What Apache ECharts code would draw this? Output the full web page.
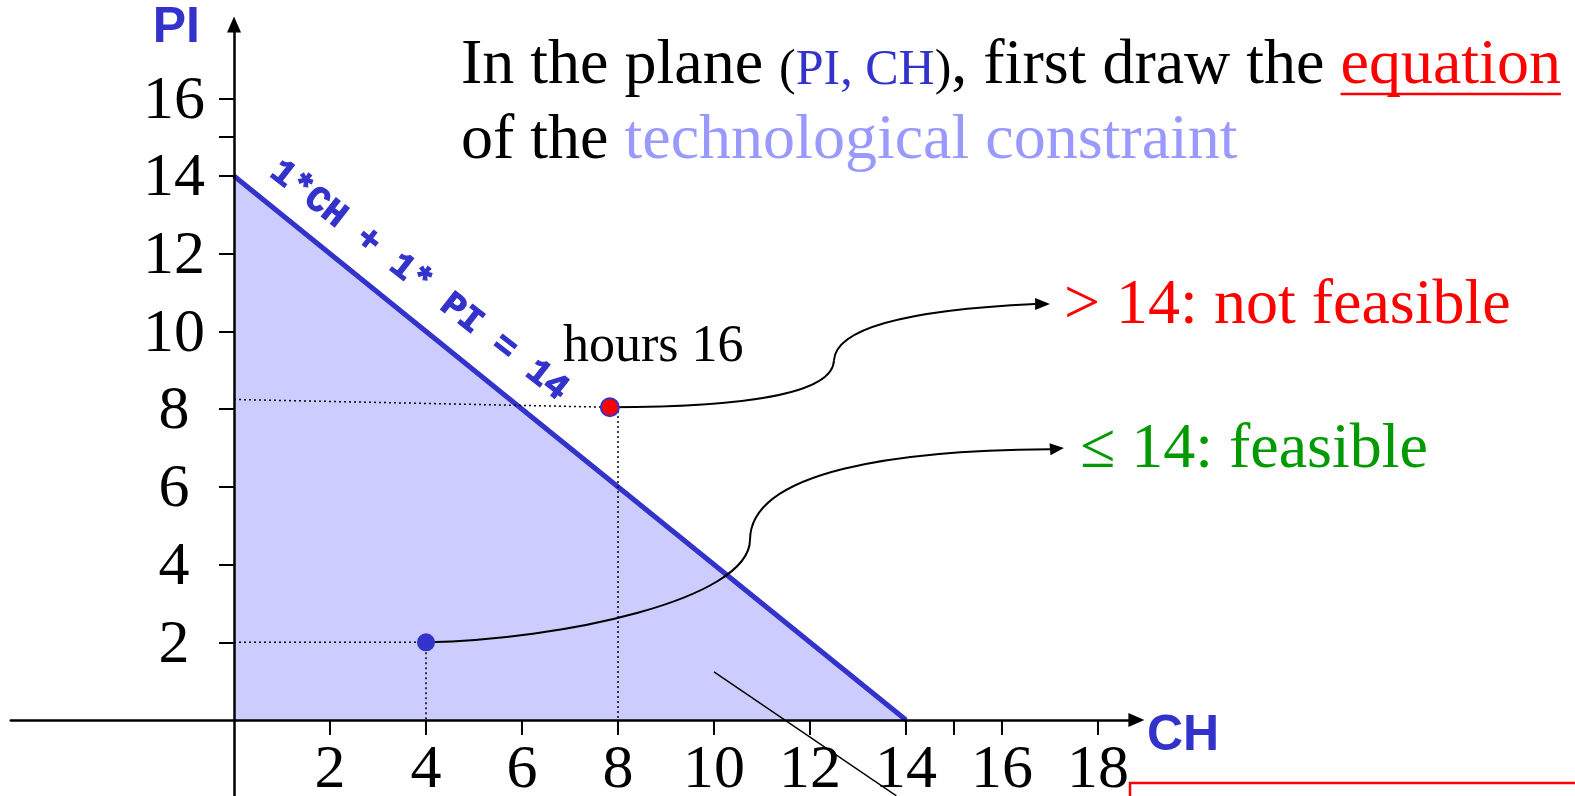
<!DOCTYPE html>
<html>
<head>
<meta charset="utf-8">
<title>Technological constraint</title>
<script src="https://cdn.jsdelivr.net/npm/echarts@6/dist/echarts.min.js"></script>
<style>
  html, body { margin: 0; padding: 0; background: #fff; }
  #chart { width: 1575px; height: 796px; }
</style>
</head>
<body>
<div id="chart"></div>
<script>
// constraint 1*CH + 1*PI = 14, between its two intercepts
const constraintLine = [[0, 14], [14, 0]];
const infeasiblePoint = [7.83, 8.05]; // hours 16
const feasiblePoint = [4, 2];         // hours 6

// dotted guides from the points to the axes
const guides = [
  [[0, 8.25], [7.83, 8.05]],
  [[8, 7.95], [8, 0]],
  [[0, 2], [4, 2]],
  [[4, 2], [4, 0]]
];

const xTicks = [2, 4, 6, 8, 10, 12, 14, 15, 16, 18];
const xTickLabels = [2, 4, 6, 8, 10, 12, 14, 16, 18];
const yTicks = [2, 4, 6, 8, 10, 12, 14, 15, 16];
const yTickLabels = [2, 4, 6, 8, 10, 12, 14, 16];

// curved arrows: start, ctrl, ctrl, mid, ctrl, ctrl, end, tip
const infeasibleArrow = [[7.83, 8.05], [10.54, 8.06], [12.48, 8.36], [12.5, 9.26],
  [12.54, 10.04], [13.88, 10.55], [16.69, 10.71], [17.0, 10.71]];
const feasibleArrow = [[4, 2], [6.79, 2.06], [10.73, 3.09], [10.75, 4.63],
  [10.75, 6.43], [13.88, 6.95], [17.0, 6.97], [17.29, 7.0]];
const arrows = [infeasibleArrow, feasibleArrow];

const pointerLine = [[10, 1.24], [13.8, -1.95]];
const constraintLabelAt = [3.85, 11.3];

const BLUE = '#3333cc';
const SERIF = '"Liberation Serif", "Times New Roman", serif';
const SANS = '"Liberation Sans", Arial, sans-serif';

const chart = echarts.init(document.getElementById('chart'));

// text helpers (baseline positioning)
const ctx = document.createElement('canvas').getContext('2d');
function textWidth(str, size) {
  ctx.font = size + 'px ' + SERIF;
  return ctx.measureText(str).width;
}
function serifText(str, x, baseline, size, color) {
  return {
    type: 'text', x: x, y: baseline - 0.3375 * size, silent: true,
    style: { text: str, fill: color, font: size + 'px ' + SERIF, align: 'left', verticalAlign: 'middle' }
  };
}

const graphics = [];
// title line 1
let tx = 461;
const line1 = [
  ['In the plane ', 64, '#000'],
  ['(', 50, '#000'],
  ['PI, CH', 50, BLUE],
  [')', 50, '#000'],
  [', first draw the ', 64, '#000'],
  ['equation', 64, '#ff0000']
];
line1.forEach(function (s, i) {
  graphics.push(serifText(s[0], tx, 88, s[1], s[2]));
  const w = textWidth(s[0], s[1]);
  if (i === line1.length - 1) {
    graphics.push({ type: 'line', silent: true, shape: { x1: tx, y1: 94, x2: tx + w, y2: 94 },
      style: { stroke: '#ff0000', lineWidth: 2.5 } });
  }
  tx += w;
});
graphics.push(serifText('of the ', 461, 163, 64, '#000'));
graphics.push(serifText('technological constraint', 461 + textWidth('of the ', 64), 163, 64, '#9999ff'));
graphics.push(serifText('> 14: not feasible', 1064, 328, 64, '#ff0000'));
graphics.push(serifText('\u2264 14: feasible', 1080, 472, 64, '#009900'));
graphics.push(serifText('hours 16', 563, 365, 52, '#000'));
graphics.push(serifText('hours  6', 312, 588, 52, '#000'));
// x axis name, sitting just below the arrow
graphics.push({ type: 'text', x: 1147, y: 754 - 0.3465 * 50, silent: true,
  style: { text: 'CH', fill: BLUE, font: 'bold 50px ' + SANS, align: 'left', verticalAlign: 'middle' } });
graphics.push({ type: 'rect', silent: true, shape: { x: 1130, y: 783, width: 470, height: 40 },
  style: { fill: null, stroke: '#ff0000', lineWidth: 2.5 } });

const series = [
  {
    type: 'line', data: constraintLine, symbol: 'none', z: 2,
    lineStyle: { color: BLUE, width: 5 },
    areaStyle: { color: '#ccccff', opacity: 1 }
  }
];
guides.forEach(function (g) {
  series.push({ type: 'line', data: g, symbol: 'none', z: 3,
    lineStyle: { color: '#000', width: 1.5, type: [2, 3] } });
});
series.push({ type: 'line', data: pointerLine, symbol: 'none', z: 4,
  lineStyle: { color: '#000', width: 1.5 } });
series.push({
  type: 'custom', z: 5, silent: true,
  data: arrows.map(function (a, i) { return [i, 0]; }),
  renderItem: function (params, api) {
    const p = arrows[params.dataIndex].map(function (d) { return api.coord(d); });
    const ang = Math.atan2(p[7][1] - p[6][1], p[7][0] - p[6][0]);
    const nx = -Math.sin(ang) * 6, ny = Math.cos(ang) * 6;
    const st = { stroke: '#000', lineWidth: 2, fill: null };
    return { type: 'group', children: [
      { type: 'bezierCurve', shape: { x1: p[0][0], y1: p[0][1], cpx1: p[1][0], cpy1: p[1][1],
        cpx2: p[2][0], cpy2: p[2][1], x2: p[3][0], y2: p[3][1] }, style: st },
      { type: 'bezierCurve', shape: { x1: p[3][0], y1: p[3][1], cpx1: p[4][0], cpy1: p[4][1],
        cpx2: p[5][0], cpy2: p[5][1], x2: p[6][0], y2: p[6][1] }, style: st },
      { type: 'polygon', shape: { points: [p[7], [p[6][0] + nx, p[6][1] + ny], [p[6][0] - nx, p[6][1] - ny]] },
        style: { fill: '#000' } }
    ] };
  }
});
series.push({
  type: 'scatter', z: 6, symbolSize: 18, itemStyle: { opacity: 1 },
  data: [
    { value: infeasiblePoint, itemStyle: { color: '#ff0000', borderColor: BLUE, borderWidth: 2, opacity: 1 } },
    { value: feasiblePoint, itemStyle: { color: BLUE, opacity: 1 } }
  ]
});
series.push({
  type: 'scatter', z: 7, symbolSize: 1, itemStyle: { color: 'rgba(0,0,0,0)', opacity: 1 },
  data: [constraintLabelAt],
  label: {
    show: true, position: 'inside', formatter: '1*CH + 1* PI = 14', rotate: -38, opacity: 1,
    fontFamily: '"Liberation Mono", monospace', fontWeight: 'bold', fontSize: 36, color: BLUE,
    textBorderColor: BLUE, textBorderWidth: 1.2
  }
});
// tick labels placed through the axis scales
series.push({
  type: 'custom', z: 10, silent: true,
  data: xTickLabels.map(function (v) { return [v, 0]; }),
  renderItem: function (params, api) {
    const p = api.coord([api.value(0), 0]);
    return { type: 'text', x: p[0], y: p[1] + 51,
      style: { text: String(api.value(0)), font: '62px ' + SERIF, fill: '#000', align: 'center', verticalAlign: 'middle' } };
  }
});
series.push({
  type: 'custom', z: 10, silent: true,
  data: yTickLabels.map(function (v) { return [0, v]; }),
  renderItem: function (params, api) {
    const p = api.coord([0, api.value(1)]);
    return { type: 'text', x: p[0] - 60, y: p[1] + 3,
      style: { text: String(api.value(1)), font: '62px ' + SERIF, fill: '#000', align: 'center', verticalAlign: 'middle' } };
  }
});

chart.setOption({
  animation: false,
  grid: { left: 10.8, right: 438.6, top: 24.5, bottom: 0.2, containLabel: false, outerBoundsMode: 'none' },
  xAxis: {
    type: 'value', min: -4.65, max: 18.8, z: 10,
    axisLine: { onZero: true, symbol: ['none', 'triangle'], symbolSize: [14, 16],
      lineStyle: { color: '#000', width: 2.5 } },
    axisTick: { customValues: xTicks, length: 15, lineStyle: { color: '#000', width: 2 } },
    axisLabel: { show: false },
    splitLine: { show: false }
  },
  yAxis: {
    type: 'value', min: -1.95, max: 17.9, z: 10,
    axisLine: { onZero: true, symbol: ['none', 'triangle'], symbolSize: [14, 16],
      lineStyle: { color: '#000', width: 2.5 } },
    axisTick: { customValues: yTicks, length: 15, lineStyle: { color: '#000', width: 2 } },
    axisLabel: { show: false },
    splitLine: { show: false },
    name: 'PI', nameLocation: 'end', nameGap: -4,
    nameTextStyle: { fontFamily: SANS, fontWeight: 'bold', fontSize: 50,
      color: BLUE, align: 'right', verticalAlign: 'middle', padding: [0, 34, 0, 0] }
  },
  graphic: graphics,
  series: series
});
</script>
</body>
</html>
